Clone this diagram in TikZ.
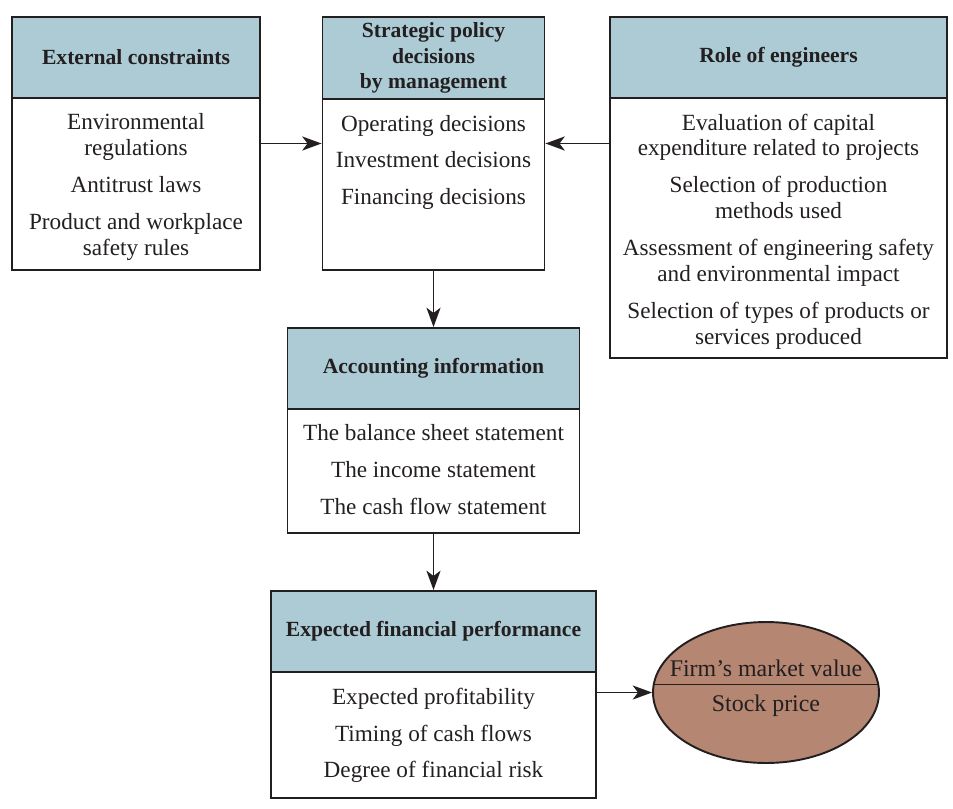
\documentclass[tikz,border=0pt]{standalone}
\usepackage{fontspec}
\setmainfont{Liberation Serif}
\usetikzlibrary{positioning,shapes.geometric,arrows.meta}
\definecolor{hdrblue}{RGB}{172,203,212}
\definecolor{mktbrown}{RGB}{181,134,114}
\definecolor{inkdark}{RGB}{35,31,32}

\begin{document}
\begin{tikzpicture}[x=0.02cm, y=-0.02cm,
    box/.style={draw=inkdark, line width=1.1pt, rectangle, inner sep=0pt},
    head/.style={draw=inkdark, line width=1.1pt, rectangle, fill=hdrblue, minimum height=1.62cm, anchor=north, align=center, font=\fontsize{12.3}{14.4}\selectfont\bfseries, text=inkdark},
    body/.style={align=center, inner sep=0pt, font=\fontsize{13.2}{14.7}\selectfont, text=inkdark},
    arrow/.style={-{Stealth[length=11pt,width=8pt,inset=3pt]}, line width=1.1pt, draw=inkdark},
]
\useasboundingbox (0,0) rectangle (953,808);

% Caixas
\node[box, minimum width=4.96cm, minimum height=5.06cm] (ext) at (136,143.5) {};
\node[box, minimum width=4.44cm, minimum height=5.06cm] (strat) at (433.5,143.5) {};
\node[box, minimum width=6.74cm, minimum height=6.82cm] (role) at (778.5,187.5) {};
\node[box, minimum width=5.84cm, minimum height=4.1cm] (acc) at (433.5,430.5) {};
\node[box, minimum width=6.5cm, minimum height=4.14cm] (exp) at (433.5,694.5) {};

% Cabeçalhos
\node[head, minimum width=4.96cm] (extH) at (ext.north) {External constraints};
\node[head, minimum width=4.44cm] (stratH) at (strat.north) {Strategic policy\\decisions\\by management};
\node[head, minimum width=6.74cm] (roleH) at (role.north) {Role of engineers};
\node[head, minimum width=5.84cm] (accH) at (acc.north) {Accounting information};
\node[head, minimum width=6.5cm] (expH) at (exp.north) {Expected financial performance};

% Conteúdo
\node[body, below=0.29cm of extH] (extT) {Environmental\\regulations\\[6.3pt]Antitrust laws\\[6.3pt]Product and workplace\\safety rules};
\node[body, below=0.29cm of stratH] (stratT) {Operating decisions\\[6.3pt]Investment decisions\\[6.3pt]Financing decisions};
\node[body, below=0.29cm of roleH] (roleT) {Evaluation of capital\\expenditure related to projects\\[6.3pt]Selection of production\\methods used\\[6.3pt]Assessment of engineering safety\\and environmental impact\\[6.3pt]Selection of types of products or\\services produced};
\node[body, below=0.29cm of accH] (accT) {The balance sheet statement\\[6.3pt]The income statement\\[6.3pt]The cash flow statement};
\node[body, below=0.29cm of expH] (expT) {Expected profitability\\[6.3pt]Timing of cash flows\\[6.3pt]Degree of financial risk};

% Valor de mercado
\node[ellipse, draw=inkdark, line width=1.1pt, fill=mktbrown, minimum width=4.52cm, minimum height=2.82cm, inner sep=0pt] (mkt) at (766,692.5) {};
\draw[draw=inkdark, line width=0.9pt] (mkt.176) -- (mkt.4);
\node[body, font=\fontsize{13.6}{15}\selectfont] (mktA) at (766,668) {Firm’s market value};
\node[body, font=\fontsize{13.6}{15}\selectfont] (mktB) at (766,706) {Stock price};

% Conexões
\draw[arrow] (ext) -- (strat);
\draw[arrow] (role.west |- strat.east) -- (strat.east);
\draw[arrow] (strat) -- (acc);
\draw[arrow] (acc) -- (exp);
\draw[arrow] (exp.east |- mkt.west) -- (mkt.west);
\end{tikzpicture}
\end{document}
